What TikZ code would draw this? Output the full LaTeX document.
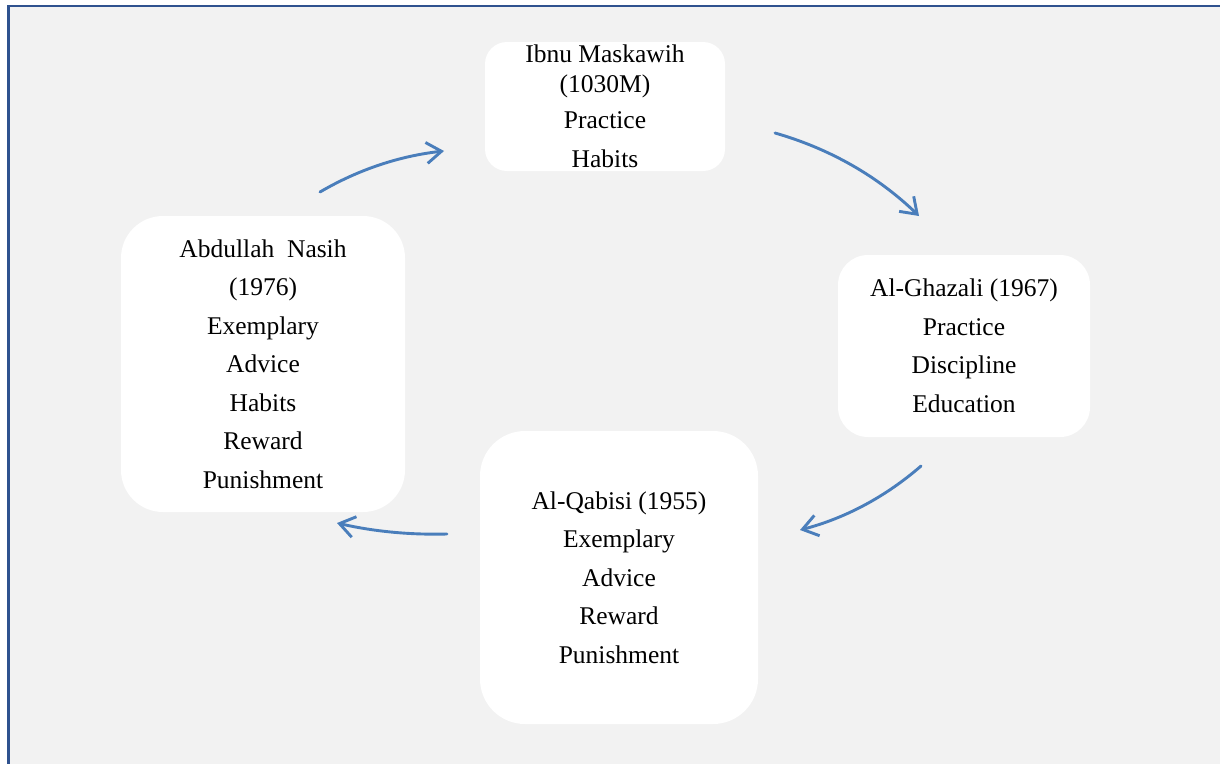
\documentclass[tikz,border=0pt]{standalone}
\usepackage{fontspec}
\setmainfont{Liberation Serif}
\usetikzlibrary{arrows.meta}
\definecolor{arrowblue}{HTML}{4A7EBB}
\definecolor{framecol}{HTML}{2F528F}
\definecolor{bggray}{HTML}{F2F2F2}
\begin{document}
\begin{tikzpicture}[x=1pt,y=-1pt,
  box/.style={fill=white, draw=none, align=center, inner sep=0pt,
    font=\fontsize{25.5}{38.5}\selectfont},
  cyc/.style={draw=arrowblue, line width=2.9pt, line cap=round,
    -{Straight Barb[length=15pt,width=21pt,line width=2.9pt]}}]
\useasboundingbox (0,0) rectangle (1220,763);
% background and frame
\fill[bggray] (8.7,6) rectangle (1230,770);
\draw[framecol, line width=2.6pt] (8.7,775) -- (8.7,6) -- (1230,6);
% boxes
\node[box, minimum width=240pt, minimum height=129pt, rounded corners=22pt] (ibnu) at (605,106.5)
  {Ibnu Maskawih\\[-8.5pt](1030M)\\[-2.5pt]Practice\\Habits};
\node[box, minimum width=252pt, minimum height=182pt, rounded corners=30pt] (ghazali) at (964,346)
  {Al-Ghazali (1967)\\Practice\\Discipline\\Education};
\node[box, minimum width=278pt, minimum height=293pt, rounded corners=45pt] (qabisi) at (619,577.5)
  {Al-Qabisi (1955)\\Exemplary\\Advice\\Reward\\Punishment};
\node[box, minimum width=284pt, minimum height=296pt, rounded corners=42pt] (nasih) at (263,364)
  {Abdullah\ \ Nasih\\(1976)\\Exemplary\\Advice\\Habits\\Reward\\Punishment};
% arrow end points
\coordinate (a1s) at (320,192); \coordinate (a1e) at (444,151);
\coordinate (a2s) at (775,133); \coordinate (a2e) at (919,216);
\coordinate (a3s) at (921,466); \coordinate (a3e) at (800,530);
\coordinate (a4s) at (447,534); \coordinate (a4e) at (337,523);
% arrows
\draw[cyc] (a1s) .. controls (358.4,169.5) and (399.8,155.9) .. (a1e);
\draw[cyc] (a2s) .. controls (829.9,148.7) and (877.9,176.3) .. (a2e);
\draw[cyc] (a3s) .. controls (885.6,496.8) and (845.2,518.2) .. (a3e);
\draw[cyc] (a4s) .. controls (409.8,535) and (373.2,531.4) .. (a4e);
\end{tikzpicture}
\end{document}
